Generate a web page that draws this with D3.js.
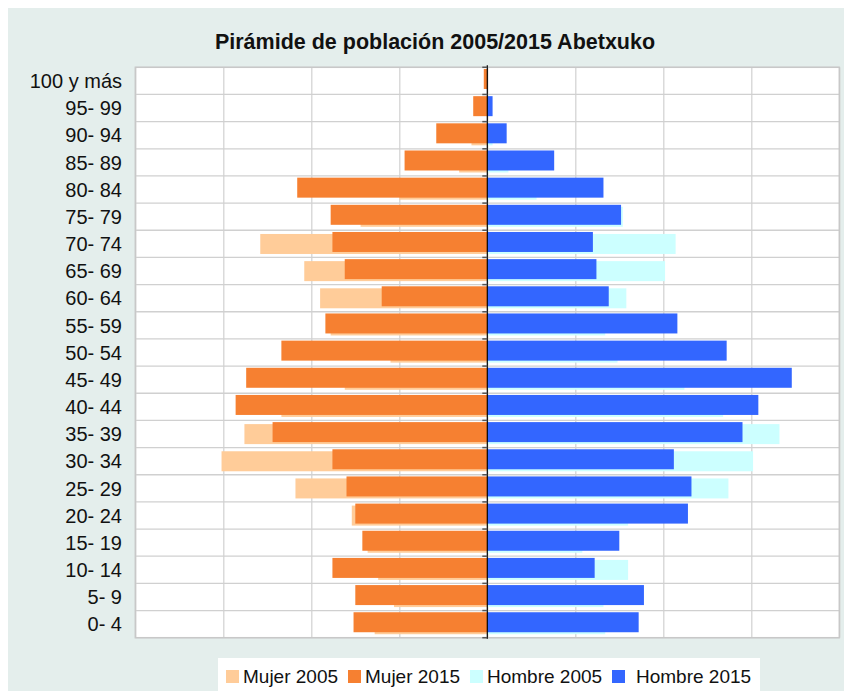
<!DOCTYPE html>
<html>
<head>
<meta charset="utf-8">
<script src="https://cdn.jsdelivr.net/npm/d3@7"></script>
<style>
  html, body { margin: 0; padding: 0; background: #ffffff; }
  svg { display: block; }
  text { font-family: "Liberation Sans", Arial, sans-serif; }
</style>
</head>
<body>
<svg id="chart" width="844" height="691"></svg>
<script>
// ---- Data ----
const categories = ["100 y más", "95- 99", "90- 94", "85- 89", "80- 84", "75- 79", "70- 74",
  "65- 69", "60- 64", "55- 59", "50- 54", "45- 49", "40- 44", "35- 39", "30- 34",
  "25- 29", "20- 24", "15- 19", "10- 14", "5- 9", "0- 4"];
const mujer2005  = [0, 0, 9, 16, 50, 72, 129, 104, 95, 89, 55, 81, 117, 138, 151, 109, 77, 68, 62, 53, 64];
const mujer2015  = [2, 8, 29, 47, 108, 89, 88, 81, 60, 92, 117, 137, 143, 122, 88, 80, 75, 71, 88, 75, 76];
const hombre2005 = [0, 0, 3, 12, 28, 77, 107, 101, 79, 67, 74, 112, 134, 166, 151, 137, 80, 54, 80, 66, 67];
const hombre2015 = [0, 3, 11, 38, 66, 76, 60, 62, 69, 108, 136, 173, 154, 145, 106, 116, 114, 75, 61, 89, 86];
const seriesNames = ["Mujer 2005", "Mujer 2015", "Hombre 2005", "Hombre 2015"];
const xTicks = [-200, -150, -100, -50, 0, 50, 100, 150, 200];
const titleText = "Pirámide de población 2005/2015 Abetxuko";

// ---- Layout ----
const colors = ["#FFCC99", "#F68031", "#CCFFFF", "#3366FF"];
const svg = d3.select("#chart");
const plot = { left: 135.3, right: 839.3, top: 67.3, bottom: 637.7 };

svg.append("rect").attr("x", 8).attr("y", 8).attr("width", 844).attr("height", 700)
  .attr("fill", "#E4EEEC");

const x = d3.scaleLinear().domain([-200, 200]).range([plot.left, plot.right]);
const y = d3.scaleBand().domain(categories).range([plot.top, plot.bottom]).padding(0);
const bw = y.bandwidth();

// plot area
svg.append("rect").attr("x", plot.left).attr("y", plot.top)
  .attr("width", plot.right - plot.left).attr("height", plot.bottom - plot.top)
  .attr("fill", "#ffffff");

// vertical gridlines via axis
const gx = svg.append("g").attr("transform", `translate(0,${plot.top})`)
  .call(d3.axisBottom(x).tickValues(xTicks).tickSize(plot.bottom - plot.top).tickFormat(""));
gx.select(".domain").remove();
gx.selectAll(".tick line").attr("stroke", "#D4D4D4").attr("stroke-width", 1.3);

// horizontal row separators
const bounds = categories.map(c => y(c)).concat([plot.bottom]);
svg.append("g").selectAll("line").data(bounds).join("line")
  .attr("x1", plot.left).attr("x2", plot.right)
  .attr("y1", d => d).attr("y2", d => d)
  .attr("stroke", "#D0D0D0").attr("stroke-width", 1.3);

// plot border
svg.append("rect").attr("x", plot.left).attr("y", plot.top)
  .attr("width", plot.right - plot.left).attr("height", plot.bottom - plot.top)
  .attr("fill", "none").attr("stroke", "#C8C8C8").attr("stroke-width", 1.5);

// bars
const off2005 = 3.7 / 27.16, off2015 = 1.7 / 27.16, hFrac = 20 / 27.16;
function drawBars(values, side, color, offFrac) {
  svg.append("g").selectAll("rect").data(values).join("rect")
    .attr("x", d => side < 0 ? x(-d) : x(0))
    .attr("width", d => Math.abs(x(d) - x(0)))
    .attr("y", (d, i) => y(categories[i]) + bw * offFrac)
    .attr("height", bw * hFrac)
    .attr("fill", color);
}
drawBars(mujer2005, -1, colors[0], off2005);
drawBars(mujer2015, -1, colors[1], off2015);
drawBars(hombre2005, 1, colors[2], off2005);
drawBars(hombre2015, 1, colors[3], off2015);

// central axis with ticks at row boundaries
svg.append("line").attr("x1", x(0)).attr("x2", x(0))
  .attr("y1", plot.top - 2).attr("y2", plot.bottom + 1)
  .attr("stroke", "#000000").attr("stroke-width", 1.2);
svg.append("g").selectAll("line").data(bounds).join("line")
  .attr("x1", x(0) - 5).attr("x2", x(0))
  .attr("y1", d => d).attr("y2", d => d)
  .attr("stroke", "#555555").attr("stroke-width", 1.5);

// category labels
svg.append("g").selectAll("text").data(categories).join("text")
  .attr("x", 122).attr("y", d => y(d) + bw / 2)
  .attr("dy", "0.36em")
  .attr("text-anchor", "end")
  .attr("font-size", 20)
  .attr("fill", "#111111")
  .text(d => d);

// title
svg.append("text").attr("x", 435).attr("y", 49)
  .attr("text-anchor", "middle").attr("font-size", 21.5).attr("font-weight", "bold")
  .attr("fill", "#111111").text(titleText);

// legend
svg.append("rect").attr("x", 218).attr("y", 658).attr("width", 542).attr("height", 40)
  .attr("fill", "#ffffff");
const legendX = [226, 348, 470, 612];
const lg = svg.append("g").selectAll("g").data(seriesNames).join("g")
  .attr("transform", (d, i) => `translate(${legendX[i]},670)`);
lg.append("rect").attr("width", 13).attr("height", 13).attr("fill", (d, i) => colors[i]);
lg.append("text").attr("x", (d, i) => i === 3 ? 24 : 17).attr("y", 12.5)
  .attr("font-size", 19).attr("fill", "#111111").text(d => d);
</script>
</body>
</html>
